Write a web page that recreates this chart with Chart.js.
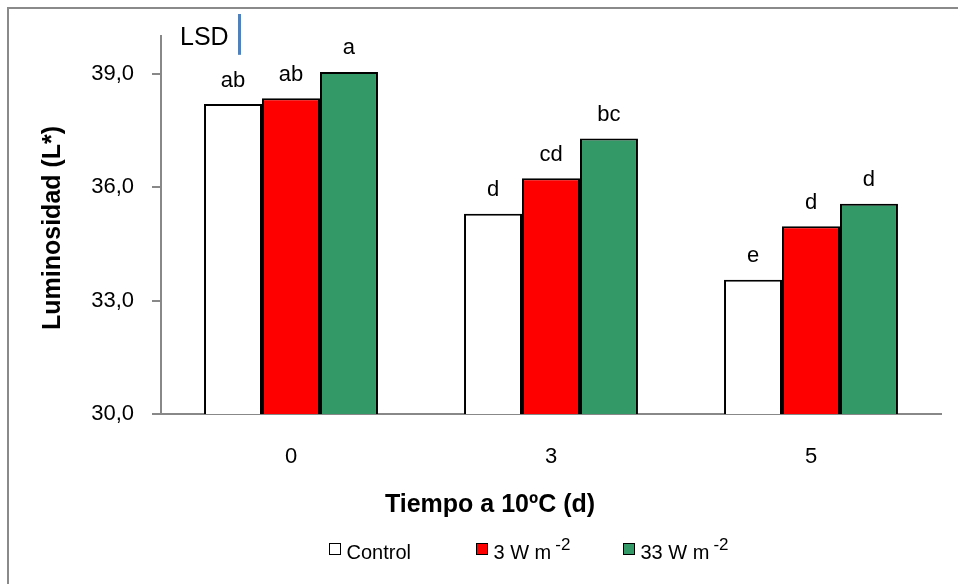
<!DOCTYPE html>
<html>
<head>
<meta charset="utf-8">
<script src="https://cdn.jsdelivr.net/npm/chart.js@4"></script>
<style>
  html, body { margin: 0; padding: 0; background: #fff; overflow: hidden; }
  canvas { display: block; }
</style>
</head>
<body>
<canvas id="c" width="958" height="584"></canvas>
<script>
// ---- data ----
const categories = ['0', '3', '5'];
const controlValues = [38.2, 35.3, 33.55];
const w3Values = [38.35, 36.24, 34.97];
const w33Values = [39.05, 37.29, 35.56];
const controlLetters = ['ab', 'd', 'e'];
const w3Letters = ['ab', 'cd', 'd'];
const w33Letters = ['a', 'bc', 'd'];
const seriesNames = ['Control', '3 W m', '33 W m'];
const seriesSuperscripts = ['', '-2', '-2'];
const yTicks = [30, 33, 36, 39];
const lsdValue = 1.08;
const xTitle = 'Tiempo a 10ºC (d)';
const yTitle = 'Luminosidad (L*)';
const lsdLabel = 'LSD';

const FONT = "'Liberation Sans', Arial, sans-serif";
const colors = ['#FFFFFF', '#FF0000', '#339966'];
const letterSets = [controlLetters, w3Letters, w33Letters];

const decorPlugin = {
  id: 'decor',
  beforeDraw(chart) {
    const ctx = chart.ctx;
    ctx.save();
    ctx.fillStyle = '#fff';
    ctx.fillRect(0, 0, chart.width, chart.height);
    ctx.strokeStyle = '#8a8a8a';
    ctx.lineWidth = 2;
    ctx.beginPath();
    ctx.moveTo(8, chart.height);
    ctx.lineTo(8, 8);
    ctx.lineTo(chart.width, 8);
    ctx.stroke();
    ctx.restore();
  },
  afterDraw(chart) {
    const ctx = chart.ctx;
    const yScale = chart.scales.y;
    ctx.save();
    ctx.fillStyle = '#000';
    // letters above bars
    ctx.font = '22px ' + FONT;
    ctx.textAlign = 'center';
    ctx.textBaseline = 'alphabetic';
    chart.data.datasets.forEach((ds, di) => {
      const meta = chart.getDatasetMeta(di);
      meta.data.forEach((bar, i) => {
        ctx.fillText(letterSets[di][i], bar.x, bar.y - 17.5);
      });
    });
    // y title
    ctx.save();
    ctx.font = 'bold 25px ' + FONT;
    ctx.translate(60, 330);
    ctx.rotate(-Math.PI / 2);
    ctx.textAlign = 'left';
    ctx.textBaseline = 'alphabetic';
    ctx.fillText(yTitle, 0, 0);
    ctx.restore();
    // x title
    ctx.font = 'bold 25px ' + FONT;
    ctx.textAlign = 'center';
    ctx.fillText(xTitle, 490, 512);
    // LSD
    ctx.font = '25px ' + FONT;
    ctx.textAlign = 'left';
    ctx.fillText(lsdLabel, 180, 45);
    const lsdPx = yScale.getPixelForValue(30) - yScale.getPixelForValue(30 + lsdValue);
    ctx.strokeStyle = '#4F81BD';
    ctx.lineWidth = 3;
    ctx.beginPath();
    ctx.moveTo(239.5, 14);
    ctx.lineTo(239.5, 14 + lsdPx);
    ctx.stroke();
    // legend
    const slot = 147;
    const x0 = 329;
    seriesNames.forEach((name, i) => {
      const bx = x0 + i * slot;
      ctx.fillStyle = colors[i];
      ctx.fillRect(bx, 543.5, 12, 11);
      ctx.strokeStyle = '#000';
      ctx.lineWidth = 1;
      ctx.strokeRect(bx + 0.5, 543.5, 11, 11);
      ctx.fillStyle = '#000';
      ctx.font = '20px ' + FONT;
      ctx.textAlign = 'left';
      const tx = bx + 17.5;
      ctx.fillText(name, tx, 558.5);
      const w = ctx.measureText(name).width;
      if (seriesSuperscripts[i]) {
        ctx.font = '17px ' + FONT;
        ctx.fillText(seriesSuperscripts[i], tx + w + 4, 550);
      }
    });
    ctx.restore();
  }
};

new Chart(document.getElementById('c'), {
  type: 'bar',
  data: {
    labels: categories,
    datasets: [
      { label: seriesNames[0], data: controlValues, backgroundColor: colors[0] },
      { label: seriesNames[1], data: w3Values, backgroundColor: colors[1] },
      { label: seriesNames[2], data: w33Values, backgroundColor: colors[2] }
    ].map(d => Object.assign(d, { borderColor: '#000', borderWidth: 2, categoryPercentage: 0.669, barPercentage: 1.0 }))
  },
  options: {
    responsive: false,
    animation: false,
    devicePixelRatio: 1,
    layout: { padding: { left: 0, top: 36, right: 17, bottom: 110 } },
    plugins: { legend: { display: false }, tooltip: { enabled: false } },
    scales: {
      x: {
        grid: { display: false, drawTicks: false },
        border: { display: true, color: '#888', width: 2 },
        ticks: { color: '#000', font: { family: FONT, size: 22 }, padding: 30 },
        afterFit(scale) { scale.height = 60; }
      },
      y: {
        min: 30, max: 40,
        afterBuildTicks(scale) { scale.ticks = yTicks.map(v => ({ value: v })); },
        afterFit(scale) { scale.width = 161; },
        grid: { display: true, drawOnChartArea: false, drawTicks: true, tickLength: 9, color: '#888', lineWidth: 2 },
        border: { display: true, color: '#888', width: 2 },
        ticks: {
          color: '#000', font: { family: FONT, size: 22 }, padding: 18,
          callback: v => Number(v).toFixed(1).replace('.', ',')
        }
      }
    }
  },
  plugins: [decorPlugin]
});
</script>
</body>
</html>
